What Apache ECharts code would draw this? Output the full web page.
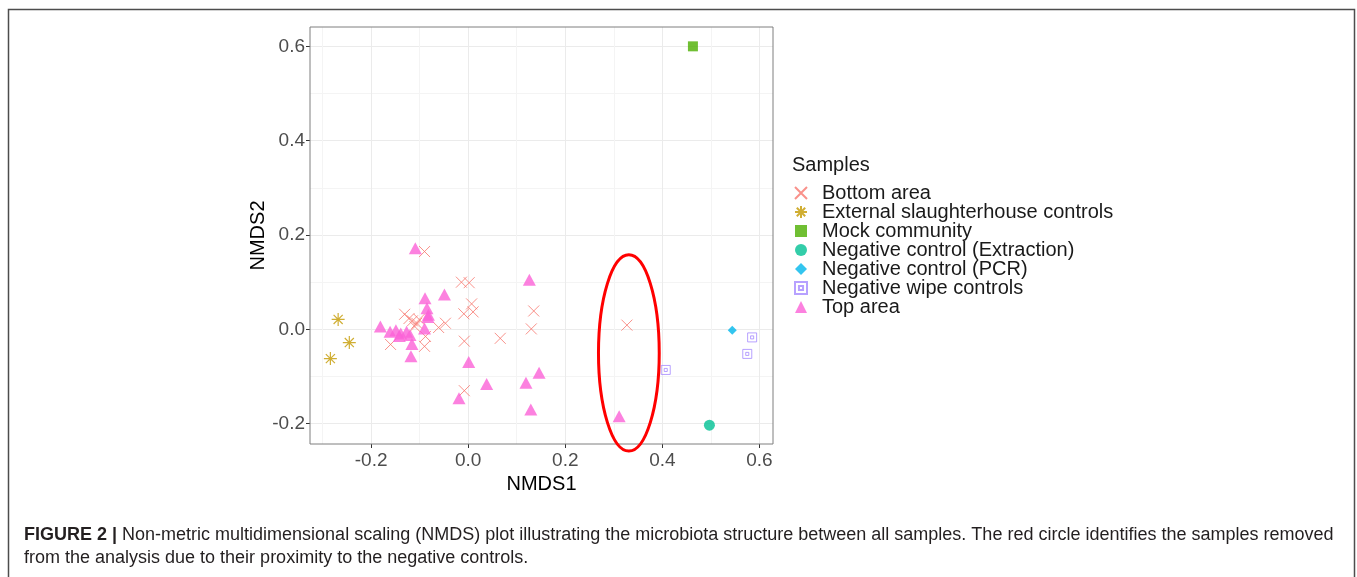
<!DOCTYPE html>
<html>
<head>
<meta charset="utf-8">
<script src="https://cdn.jsdelivr.net/npm/echarts@6/dist/echarts.min.js"></script>
<style>
html,body{margin:0;padding:0;background:#fff;}
#chart{width:1357px;height:577px;}
</style>
</head>
<body>
<div id="chart"></div>
<script>
// ---- data ----
const seriesNames = ['Bottom area','External slaughterhouse controls','Mock community','Negative control (Extraction)','Negative control (PCR)','Negative wipe controls','Top area'];
const bottomArea = [[-0.090,0.165],[-0.014,0.100],[0.002,0.099],[0.007,0.054],[-0.009,0.033],[0.010,0.037],[0.135,0.039],[0.130,0.001],[0.066,-0.019],[-0.008,-0.025],[-0.008,-0.130],[0.327,0.009],[-0.047,0.013],[-0.061,0.004],[-0.160,-0.032],[-0.090,-0.036],[-0.088,-0.015],[-0.131,0.032],[-0.122,0.023],[-0.115,0.018],[-0.106,0.013],[-0.101,0.021],[-0.110,0.006]];
const externalControls = [[-0.268,0.021],[-0.245,-0.028],[-0.284,-0.062]];
const mockCommunity = [[0.463,0.600]];
const negExtraction = [[0.497,-0.203]];
const negPCR = [[0.544,-0.002]];
const negWipe = [[0.585,-0.017],[0.575,-0.052],[0.407,-0.086]];
const topArea = [[-0.109,0.172],[-0.049,0.074],[-0.089,0.066],[0.126,0.105],[-0.085,0.045],[-0.082,0.031],[-0.083,0.026],[-0.181,0.006],[-0.161,-0.005],[-0.149,-0.002],[-0.139,-0.009],[-0.127,-0.005],[-0.120,-0.012],[-0.142,-0.014],[-0.090,0.002],[-0.116,-0.031],[-0.118,-0.057],[0.001,-0.069],[0.146,-0.092],[0.038,-0.116],[0.119,-0.113],[-0.019,-0.146],[0.129,-0.170],[0.311,-0.184]];
// red ellipse: centre x, centre y, half-width, half-height (data units)
const removedEllipse = [[0.331,-0.050,0.0626,0.208]];
const xMajorTicks = [-0.2,0.0,0.2,0.4,0.6];
const xMinorTicks = [-0.3,-0.1,0.1,0.3,0.5];
const yMajorTicks = [-0.2,0.0,0.2,0.4,0.6];
const yMinorTicks = [-0.1,0.1,0.3,0.5];
const xRange = [-0.326,0.628];
const yRange = [-0.243,0.641];

const FONT = '"Liberation Sans", Arial, Helvetica, sans-serif';
const chart = echarts.init(document.getElementById('chart'), null, {renderer:'canvas'});

function majorAxis(range, ticks, isX){
  const ax = {
    type:'value', min:range[0], max:range[1],
    position:isX?'bottom':'left',
    axisLine:{show:false, onZero:false},
    axisTick:{show:true, length:4, lineStyle:{color:'#333'}, customValues:ticks},
    axisLabel:{show:true, customValues:ticks, fontSize:19, color:'#4d4d4d', fontFamily:FONT,
      margin:isX?7:5, formatter:v=>v.toFixed(1)},
    splitLine:{show:true, lineStyle:{color:'#ebebeb', width:1}},
    nameLocation:'middle', nameTextStyle:{fontSize:20, color:'#000', fontFamily:FONT}
  };
  if(isX){ ax.name='NMDS1'; ax.nameGap=21; }
  else { ax.name='NMDS2'; ax.nameGap=42; ax.nameRotate=90; }
  return ax;
}
function minorAxis(range, ticks, pos){
  return {
    type:'value', min:range[0], max:range[1], position:pos,
    axisLine:{show:false, onZero:false},
    axisTick:{show:false, customValues:ticks},
    axisLabel:{show:false, customValues:ticks},
    splitLine:{show:true, lineStyle:{color:'#f4f4f4', width:1}}
  };
}
const strokeSym = (c,w)=>({color:'rgba(0,0,0,0)', borderColor:c, borderWidth:w});

const option = {
  backgroundColor:'#fff',
  animation:false,
  grid:{left:310, top:27, width:463, height:417, show:true, borderColor:'#7f7f7f', borderWidth:1, backgroundColor:'transparent', z:3},
  xAxis:[majorAxis(xRange,xMajorTicks,true), minorAxis(xRange,xMinorTicks,'top')],
  yAxis:[majorAxis(yRange,yMajorTicks,false), minorAxis(yRange,yMinorTicks,'right')],
  legend:{
    data:seriesNames, orient:'vertical', left:789, top:178,
    itemWidth:12, itemHeight:12, itemGap:-1,
    textStyle:{fontSize:20, lineHeight:17, color:'#1a1a1a', fontFamily:FONT, padding:[0,0,0,10]},
    selectedMode:false
  },
  graphic:[
    {type:'rect', shape:{x:8.5, y:9.5, width:1346, height:620}, style:{fill:'none', stroke:'#4d4d4d', lineWidth:1.5}, silent:true},
    {type:'text', left:792, top:155, style:{text:'Samples', fontSize:20, fill:'#1a1a1a', fontFamily:FONT}, silent:true},
    {type:'text', x:24, y:535, style:{text:'{b|FIGURE 2 |} Non-metric multidimensional scaling (NMDS) plot illustrating the microbiota structure between all samples. The red circle identifies the samples removed',
      fontSize:18, fill:'#231f20', fontFamily:FONT, verticalAlign:'middle',
      rich:{b:{fontWeight:'bold', fontSize:18, fill:'#231f20', fontFamily:FONT}}}, silent:true},
    {type:'text', x:24, y:558, style:{text:'from the analysis due to their proximity to the negative controls.',
      fontSize:18, fill:'#231f20', fontFamily:FONT, verticalAlign:'middle'}, silent:true}
  ],
  series:[
    {name:seriesNames[0], type:'scatter', data:bottomArea, symbol:'path://M0,0L10,10M10,0L0,10', symbolSize:11,
      itemStyle:strokeSym('#F8766D',1), emphasis:{disabled:true}, silent:true, z:4},
    {name:seriesNames[1], type:'scatter', data:externalControls, symbol:'path://M5,0V10M0,5H10M1.5,1.5L8.5,8.5M8.5,1.5L1.5,8.5', symbolSize:13,
      itemStyle:strokeSym('#C49A00',1.2), emphasis:{disabled:true}, silent:true, z:4},
    {name:seriesNames[2], type:'scatter', data:mockCommunity, symbol:'rect', symbolSize:10,
      itemStyle:{color:'#4CAF00'}, emphasis:{disabled:true}, silent:true, z:4},
    {name:seriesNames[3], type:'scatter', data:negExtraction, symbol:'circle', symbolSize:11,
      itemStyle:{color:'#00C094'}, emphasis:{disabled:true}, silent:true, z:4},
    {name:seriesNames[4], type:'scatter', data:negPCR, symbol:'diamond', symbolSize:9,
      itemStyle:{color:'#00B6EB'}, emphasis:{disabled:true}, silent:true, z:4},
    {name:seriesNames[5], type:'scatter', data:negWipe, symbol:'path://M0,0H10V10H0ZM3.3,3.3H6.7V6.7H3.3Z', symbolSize:9,
      itemStyle:strokeSym('#A58AFF',1), emphasis:{disabled:true}, silent:true, z:4},
    {name:seriesNames[6], type:'scatter', data:topArea, symbol:'triangle', symbolSize:[13,12],
      itemStyle:{color:'#FB61D7'}, emphasis:{disabled:true}, silent:true, z:4},
    {name:'removed', type:'custom', data:removedEllipse, clip:false, silent:true, z:5,
      renderItem:function(params, api){
        const c = api.coord([api.value(0), api.value(1)]);
        const s = api.size([api.value(2), api.value(3)]);
        return {type:'ellipse', shape:{cx:c[0], cy:c[1], rx:s[0], ry:s[1]},
          style:{fill:null, stroke:'#ff0000', lineWidth:3}};
      }}
  ]
};
chart.setOption(option);
</script>
</body>
</html>
